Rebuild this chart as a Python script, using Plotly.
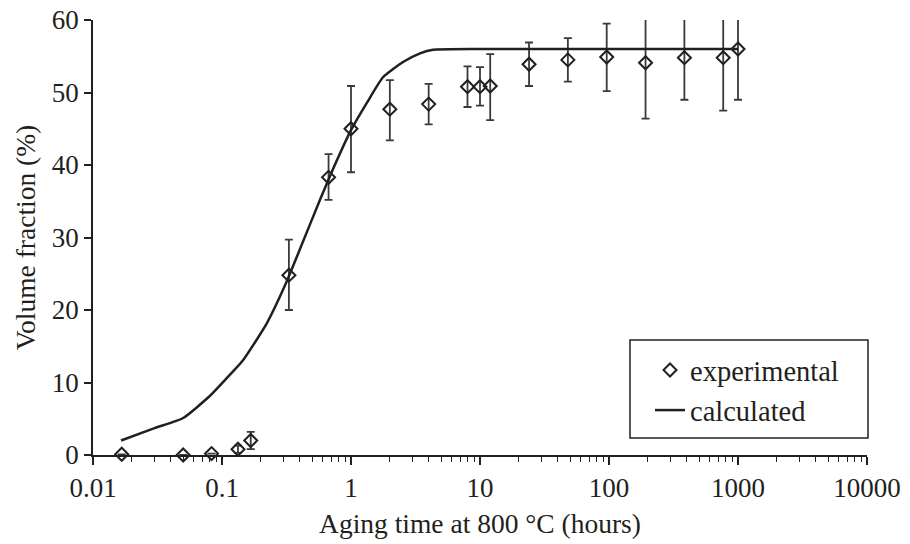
import plotly.graph_objects as go

# Experimental data (aging time in hours, volume fraction %)
exp_time = [0.0167, 0.05, 0.083, 0.133, 0.167, 0.33, 0.67, 1.0, 2.0, 4.0, 8.0, 10.0, 12.0, 24.0, 48.0, 96.0, 192.0, 384.0, 768.0, 1000.0]
exp_frac = [0.1, 0.0, 0.2, 0.8, 2.0, 24.8, 38.3, 45.0, 47.7, 48.4, 50.8, 50.8, 50.9, 53.9, 54.5, 54.9, 54.1, 54.8, 54.8, 56.0]
err_plus = [0.0, 0.0, 0.0, 0.5, 1.2, 4.9, 3.2, 5.9, 4.0, 2.8, 2.8, 2.7, 4.4, 3.0, 3.0, 4.6, 6.6, 5.9, 5.9, 4.7]
err_minus = [0.0, 0.0, 0.0, 0.5, 1.2, 4.8, 3.1, 6.0, 4.3, 2.8, 2.8, 2.6, 4.7, 3.0, 3.0, 4.7, 7.7, 5.8, 7.3, 7.0]

# Calculated curve
calc_time = [0.0165, 0.03, 0.05, 0.08, 0.105, 0.146, 0.223, 0.308, 0.40, 0.575, 0.72, 1.0, 1.33, 1.77, 2.53, 3.43, 4.32, 10.0, 100.0, 1000.0]
calc_frac = [2.0, 3.7, 5.1, 8.1, 10.3, 13.1, 18.2, 23.4, 28.3, 35.2, 39.3, 44.8, 48.6, 52.1, 54.2, 55.4, 55.9, 56.0, 56.0, 56.0]

x_tickvals = [0.01, 0.1, 1, 10, 100, 1000, 10000]
x_ticktext = ["0.01", "0.1", "1", "10", "100", "1000", "10000"]
y_tickvals = [0, 10, 20, 30, 40, 50, 60]

INK = "#231f20"
FONT = "Liberation Serif"

fig = go.Figure()

fig.add_trace(go.Scatter(
    x=exp_time, y=exp_frac, mode="markers", name="experimental",
    cliponaxis=False,
    marker=dict(symbol="diamond-open", size=10, color=INK, line=dict(width=2, color=INK)),
    error_y=dict(type="data", symmetric=False, array=err_plus, arrayminus=err_minus,
                 color="#3a3a3a", thickness=1.8, width=4),
))

fig.add_trace(go.Scatter(
    x=calc_time, y=calc_frac, mode="lines", name="calculated",
    line=dict(color=INK, width=2.5, shape="spline", smoothing=0.5),
))

fig.update_layout(
    width=910, height=544,
    margin=dict(l=85, r=51, t=12, b=97),
    paper_bgcolor="white", plot_bgcolor="white",
    font=dict(family=FONT, size=26, color=INK),
    showlegend=True,
    legend=dict(x=(650 - 93) / 774, y=(455 - 345) / 435, xanchor="left", yanchor="top",
                bgcolor="rgba(0,0,0,0)", borderwidth=0,
                font=dict(family=FONT, size=28.5, color=INK),
                itemwidth=30, tracegroupgap=0),
    shapes=[dict(type="rect", xref="paper", yref="paper",
                 x0=(630 - 93) / 774, x1=(868 - 93) / 774,
                 y0=(455 - 438) / 435, y1=(455 - 340) / 435,
                 line=dict(color=INK, width=1.5), fillcolor="rgba(0,0,0,0)")],
)

fig.update_xaxes(
    type="log", range=[-2, 4], automargin=False,
    tickvals=x_tickvals, ticktext=x_ticktext,
    ticks="outside", ticklen=8, tickwidth=1.5, tickcolor=INK,
    showline=True, linecolor=INK, linewidth=1.5,
    showgrid=False, zeroline=False, ticklabeloverflow="allow",
    minor=dict(ticks="outside", ticklen=5, tickwidth=1.2, tickcolor=INK, dtick="D1", showgrid=False),
    title=dict(text="Aging time at 800 °C (hours)", standoff=12, font=dict(family=FONT, size=27.5, color=INK)),
    tickfont=dict(family=FONT, size=27, color=INK),
)

fig.update_yaxes(
    range=[0, 60], tickvals=y_tickvals, automargin=False,
    ticks="outside", ticklen=7, tickwidth=1.5, tickcolor=INK,
    showline=True, linecolor=INK, linewidth=1.5,
    showgrid=False, zeroline=False, ticklabeloverflow="allow",
    title=dict(text="Volume fraction (%)", standoff=8, font=dict(family=FONT, size=27.5, color=INK)),
    tickfont=dict(family=FONT, size=27, color=INK),
)

fig.write_html("out.html")
